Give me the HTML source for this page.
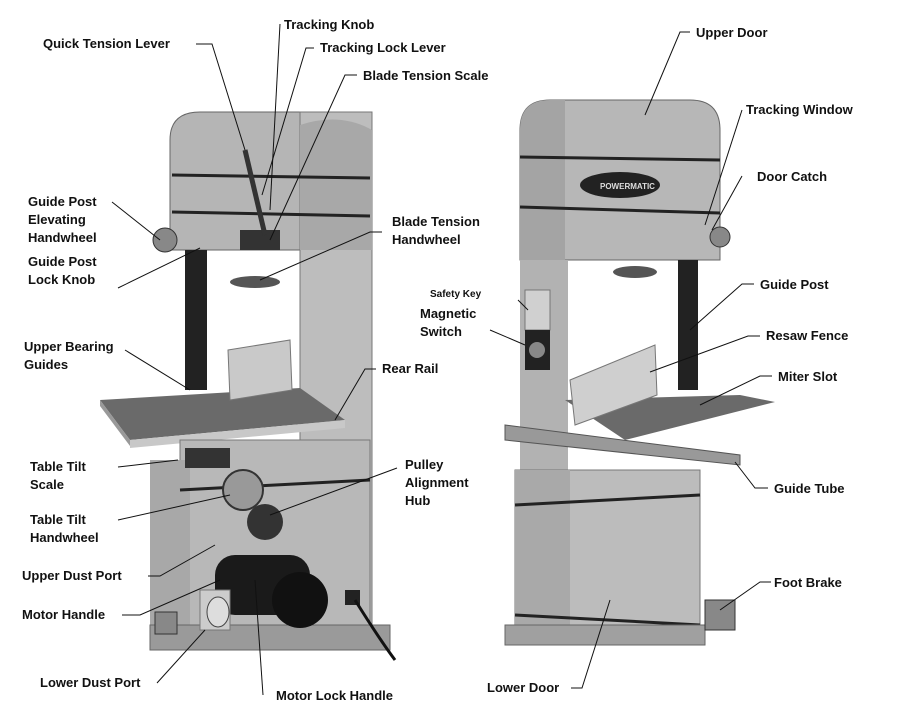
<!DOCTYPE html>
<html><head><meta charset="utf-8"><style>
html,body{margin:0;padding:0;background:#fff}
svg{display:block}
text{font-family:"Liberation Sans",Arial,sans-serif;font-weight:bold;font-size:13px;fill:#111}
</style></head><body>
<svg width="900" height="720" viewBox="0 0 900 720" xmlns="http://www.w3.org/2000/svg">
<rect width="900" height="720" fill="#fff"/>
<!-- LEFT MACHINE -->
<g>
<path d="M170 250 L170 140 Q170 112 200 112 L300 112 Q330 112 330 140 L330 250 Z" fill="#b5b5b5" stroke="#666"/>
<rect x="300" y="112" width="72" height="530" fill="#bdbdbd" stroke="#777"/>
<path d="M300 125 Q340 112 372 130 L372 250 L300 250Z" fill="#a8a8a8"/>
<line x1="172" y1="175" x2="370" y2="178" stroke="#222" stroke-width="3"/>
<line x1="172" y1="212" x2="370" y2="216" stroke="#222" stroke-width="3"/>
<rect x="185" y="250" width="22" height="140" fill="#222"/>
<rect x="240" y="230" width="40" height="20" fill="#333"/>
<line x1="245" y1="150" x2="265" y2="235" stroke="#333" stroke-width="5"/>
<ellipse cx="255" cy="282" rx="25" ry="6" fill="#555"/>
<circle cx="165" cy="240" r="12" fill="#888" stroke="#333"/>
<!-- table -->
<polygon points="100,400 300,388 345,420 130,440" fill="#6a6a6a"/>
<polygon points="100,400 130,440 130,446 100,406" fill="#999"/>
<polygon points="130,440 345,420 345,428 130,448" fill="#c8c8c8"/>
<polygon points="228,350 290,340 292,390 230,400" fill="#c9c9c9" stroke="#777"/>
<!-- base -->
<rect x="180" y="440" width="190" height="200" fill="#b8b8b8" stroke="#777"/>
<rect x="150" y="460" width="40" height="170" fill="#a8a8a8"/>
<rect x="150" y="625" width="240" height="25" fill="#9a9a9a" stroke="#666"/>
<line x1="180" y1="490" x2="370" y2="480" stroke="#222" stroke-width="3"/>
<circle cx="243" cy="490" r="20" fill="#999" stroke="#333" stroke-width="2"/>
<circle cx="265" cy="522" r="18" fill="#333"/>
<rect x="215" y="555" width="95" height="60" rx="20" fill="#1a1a1a"/>
<circle cx="300" cy="600" r="28" fill="#111"/>
<rect x="200" y="590" width="30" height="40" fill="#ccc" stroke="#777"/>
<ellipse cx="218" cy="612" rx="11" ry="15" fill="#ddd" stroke="#444"/>
<rect x="345" y="590" width="15" height="15" fill="#222"/>
<path d="M355 600 Q380 640 395 660" stroke="#111" stroke-width="3" fill="none"/>
<rect x="155" y="612" width="22" height="22" fill="#888" stroke="#333"/>
<rect x="185" y="448" width="45" height="20" fill="#333"/>
</g>
<!-- RIGHT MACHINE -->
<g>
<path d="M520 260 L520 130 Q520 100 550 100 L690 100 Q720 100 720 130 L720 260 Z" fill="#b7b7b7" stroke="#666"/>
<path d="M520 260 L520 130 Q520 100 550 100 L565 100 L565 260Z" fill="#a4a4a4"/>
<line x1="520" y1="157" x2="720" y2="160" stroke="#222" stroke-width="3"/>
<line x1="520" y1="207" x2="720" y2="213" stroke="#222" stroke-width="3"/>
<ellipse cx="620" cy="185" rx="40" ry="13" fill="#222"/>
<text x="600" y="189" style="font-size:8px;fill:#ddd">POWERMATIC</text>
<rect x="520" y="260" width="48" height="215" fill="#b2b2b2"/>
<rect x="678" y="260" width="20" height="130" fill="#222"/>
<ellipse cx="635" cy="272" rx="22" ry="6" fill="#555"/>
<circle cx="720" cy="237" r="10" fill="#888" stroke="#333"/>
<rect x="525" y="290" width="25" height="40" fill="#d0d0d0" stroke="#777"/>
<rect x="525" y="330" width="25" height="40" fill="#222"/>
<circle cx="537" cy="350" r="8" fill="#888"/>
<polygon points="565,400 740,395 775,402 625,440" fill="#6a6a6a"/>
<polygon points="570,380 655,345 657,395 575,425" fill="#cfcfcf" stroke="#777"/>
<polygon points="505,425 740,455 740,465 505,440" fill="#999" stroke="#555"/>
<rect x="515" y="470" width="185" height="170" fill="#bcbcbc" stroke="#777"/>
<rect x="515" y="470" width="55" height="170" fill="#a9a9a9"/>
<line x1="515" y1="505" x2="700" y2="495" stroke="#222" stroke-width="3"/>
<line x1="515" y1="615" x2="700" y2="625" stroke="#222" stroke-width="3"/>
<rect x="505" y="625" width="200" height="20" fill="#a0a0a0" stroke="#666"/>
<rect x="705" y="600" width="30" height="30" fill="#888" stroke="#333"/>
</g>
<!-- leaders -->
<g stroke="#111" stroke-width="1" fill="none">
<path d="M196 44 H212 L245 150"/>
<path d="M280 24 L270 210"/>
<path d="M314 48 H306 L262 195"/>
<path d="M357 75 H345 L270 240"/>
<path d="M112 202 L160 240"/>
<path d="M382 232 H370 L260 280"/>
<path d="M118 288 L200 248"/>
<path d="M125 350 L190 390"/>
<path d="M376 369 H365 L335 420"/>
<path d="M118 467 L178 460"/>
<path d="M397 468 L270 515"/>
<path d="M118 520 L230 495"/>
<path d="M148 576 H160 L215 545"/>
<path d="M122 615 H140 L220 580"/>
<path d="M157 683 L205 630"/>
<path d="M263 695 L255 580"/>
<path d="M690 32 H680 L645 115"/>
<path d="M742 110 L705 225"/>
<path d="M742 176 L712 230"/>
<path d="M754 284 H742 L690 330"/>
<path d="M760 336 H748 L650 372"/>
<path d="M772 376 H760 L700 405"/>
<path d="M768 488 H755 L735 462"/>
<path d="M771 582 H760 L720 610"/>
<path d="M571 688 H582 L610 600"/>
<path d="M518 300 L528 310"/>
<path d="M490 330 L525 345"/>
</g>
<!-- labels -->
<text x="43" y="48">Quick Tension Lever</text>
<text x="284" y="29">Tracking Knob</text>
<text x="320" y="52">Tracking Lock Lever</text>
<text x="363" y="80">Blade Tension Scale</text>
<text x="28" y="206">Guide Post</text>
<text x="28" y="224">Elevating</text>
<text x="28" y="242">Handwheel</text>
<text x="392" y="226">Blade Tension</text>
<text x="392" y="244">Handwheel</text>
<text x="28" y="266">Guide Post</text>
<text x="28" y="284">Lock Knob</text>
<text x="24" y="351">Upper Bearing</text>
<text x="24" y="369">Guides</text>
<text x="382" y="373">Rear Rail</text>
<text x="30" y="471">Table Tilt</text>
<text x="30" y="489">Scale</text>
<text x="405" y="469">Pulley</text>
<text x="405" y="487">Alignment</text>
<text x="405" y="505">Hub</text>
<text x="30" y="524">Table Tilt</text>
<text x="30" y="542">Handwheel</text>
<text x="22" y="580">Upper Dust Port</text>
<text x="22" y="619">Motor Handle</text>
<text x="40" y="687">Lower Dust Port</text>
<text x="276" y="700">Motor Lock Handle</text>
<text x="696" y="37">Upper Door</text>
<text x="746" y="114">Tracking Window</text>
<text x="757" y="181">Door Catch</text>
<text x="760" y="289">Guide Post</text>
<text x="766" y="340">Resaw Fence</text>
<text x="778" y="381">Miter Slot</text>
<text x="430" y="297" style="font-size:10px">Safety Key</text>
<text x="420" y="318">Magnetic</text>
<text x="420" y="336">Switch</text>
<text x="774" y="493">Guide Tube</text>
<text x="774" y="587">Foot Brake</text>
<text x="487" y="692">Lower Door</text>
</svg>
</body></html>
